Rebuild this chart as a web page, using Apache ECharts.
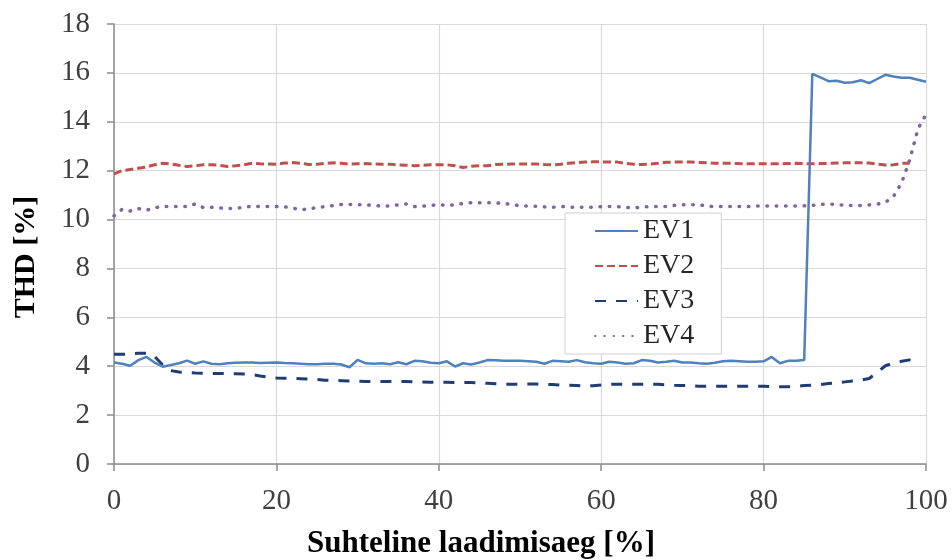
<!DOCTYPE html>
<html>
<head>
<meta charset="utf-8">
<script src="https://cdn.jsdelivr.net/npm/echarts@6/dist/echarts.min.js"></script>
<style>html,body{margin:0;padding:0;background:#fff}#c{width:952px;height:560px}</style>
</head>
<body>
<div id="c"></div>
<script>
// Relative charging time [%] (0..100, step 1)
const pct = Array.from({length: 101}, (_, i) => i);
const xTicks = [0, 20, 40, 60, 80, 100];
const yTicks = [0, 2, 4, 6, 8, 10, 12, 14, 16, 18];

const ev1 = [4.15,4.1,4.02,4.25,4.38,4.15,3.98,4.05,4.12,4.23,
  4.1,4.2,4.1,4.08,4.12,4.14,4.15,4.15,4.13,4.14,
  4.15,4.13,4.12,4.1,4.08,4.08,4.1,4.1,4.07,3.96,
  4.26,4.12,4.1,4.12,4.08,4.16,4.08,4.22,4.2,4.14,
  4.12,4.2,3.99,4.12,4.07,4.15,4.25,4.24,4.22,4.22,
  4.22,4.2,4.18,4.1,4.22,4.2,4.18,4.25,4.16,4.12,
  4.1,4.18,4.15,4.1,4.12,4.25,4.22,4.15,4.18,4.22,
  4.15,4.15,4.12,4.1,4.14,4.2,4.22,4.2,4.18,4.18,
  4.2,4.38,4.12,4.22,4.22,4.25,15.96,15.82,15.66,15.68,
  15.6,15.62,15.7,15.58,15.75,15.92,15.85,15.8,15.8,15.72,15.64];

const ev2 = [11.87,12.0,12.05,12.1,12.15,12.24,12.3,12.28,12.22,12.17,
  12.2,12.24,12.24,12.22,12.17,12.2,12.24,12.3,12.28,12.27,
  12.26,12.31,12.33,12.3,12.25,12.26,12.3,12.32,12.3,12.27,
  12.28,12.29,12.27,12.26,12.26,12.24,12.22,12.2,12.22,12.24,
  12.24,12.24,12.2,12.13,12.18,12.2,12.2,12.25,12.26,12.27,
  12.27,12.27,12.27,12.25,12.24,12.26,12.3,12.33,12.35,12.36,
  12.36,12.35,12.35,12.3,12.26,12.25,12.27,12.3,12.34,12.35,
  12.35,12.35,12.33,12.32,12.3,12.3,12.3,12.29,12.28,12.28,
  12.28,12.28,12.28,12.29,12.3,12.29,12.28,12.29,12.3,12.31,
  12.32,12.32,12.32,12.31,12.27,12.23,12.24,12.3,12.3,null,null];

const ev3 = [4.49,4.49,4.5,4.53,4.53,4.4,4.05,3.82,3.76,3.74,
  3.72,3.71,3.7,3.7,3.7,3.69,3.68,3.66,3.6,3.55,
  3.52,3.51,3.5,3.49,3.48,3.46,3.43,3.42,3.41,3.4,
  3.39,3.38,3.37,3.37,3.37,3.37,3.37,3.36,3.35,3.34,
  3.34,3.34,3.33,3.33,3.33,3.32,3.3,3.28,3.26,3.26,
  3.27,3.27,3.27,3.26,3.25,3.23,3.22,3.21,3.19,3.2,
  3.23,3.26,3.26,3.26,3.26,3.26,3.27,3.26,3.24,3.22,
  3.21,3.2,3.18,3.18,3.18,3.18,3.18,3.18,3.18,3.18,
  3.18,3.17,3.16,3.16,3.18,3.21,3.22,3.25,3.29,3.32,
  3.36,3.4,3.43,3.5,3.75,4.02,4.13,4.2,4.26,4.22,null];

const ev4 = [10.15,10.42,10.35,10.45,10.38,10.48,10.54,10.53,10.53,10.53,
  10.64,10.49,10.5,10.48,10.45,10.46,10.5,10.55,10.53,10.53,
  10.53,10.52,10.47,10.4,10.44,10.49,10.53,10.57,10.62,10.62,
  10.61,10.6,10.58,10.55,10.56,10.6,10.64,10.53,10.55,10.58,
  10.61,10.58,10.6,10.66,10.69,10.69,10.69,10.68,10.66,10.62,
  10.56,10.55,10.54,10.52,10.5,10.54,10.51,10.5,10.5,10.51,
  10.53,10.53,10.53,10.5,10.47,10.52,10.53,10.53,10.53,10.58,
  10.61,10.61,10.61,10.55,10.53,10.53,10.53,10.53,10.53,10.56,
  10.55,10.55,10.55,10.55,10.55,10.56,10.58,10.62,10.63,10.62,
  10.58,10.57,10.58,10.6,10.63,10.7,10.95,11.5,12.45,13.7,14.3];

const seriesNames = ['EV1', 'EV2', 'EV3', 'EV4'];
const xTitle = 'Suhteline laadimisaeg [%]';
const yTitle = 'THD [%]';

const pair = arr => pct.map((x, i) => [x, arr[i]]);
const serif = "'Liberation Serif', 'Times New Roman', serif";

const chart = echarts.init(document.getElementById('c'), null, {renderer: 'canvas'});
chart.setOption({
  animation: false,
  backgroundColor: '#ffffff',
  grid: {left: 114, right: 26, top: 24, bottom: 96, containLabel: false, outerBoundsMode: 'none'},
  xAxis: {
    type: 'value', min: xTicks[0], max: xTicks[xTicks.length - 1], interval: 20,
    name: xTitle, nameLocation: 'middle', nameGap: 64,
    nameTextStyle: {fontFamily: serif, fontWeight: 'bold', fontSize: 31, color: '#000', padding: [0, 78, 0, 0]},
    axisLine: {show: true, lineStyle: {color: '#8C8C8C', width: 1.5}},
    axisTick: {show: true, length: 7, lineStyle: {color: '#8C8C8C', width: 1.5}},
    axisLabel: {margin: 23, fontFamily: serif, fontSize: 29, color: '#404040'},
    splitLine: {show: true, lineStyle: {color: '#D9D9D9', width: 1.2}}
  },
  yAxis: {
    type: 'value', min: yTicks[0], max: yTicks[yTicks.length - 1], interval: 2,
    name: yTitle, nameLocation: 'middle', nameGap: 73, nameRotate: 90,
    nameTextStyle: {fontFamily: serif, fontWeight: 'bold', fontSize: 30, color: '#000', padding: [0, 26, 0, 0]},
    axisLine: {show: true, lineStyle: {color: '#8C8C8C', width: 1.5}},
    axisTick: {show: true, length: 7, lineStyle: {color: '#8C8C8C', width: 1.5}},
    axisLabel: {margin: 24, fontFamily: serif, fontSize: 29, color: '#404040'},
    splitLine: {show: true, lineStyle: {color: '#D9D9D9', width: 1.2}}
  },
  legend: {
    orient: 'vertical', left: 565, top: 213,
    padding: [3, 27, 3, 29], itemGap: 5, itemWidth: 43, itemHeight: 14,
    backgroundColor: '#ffffff', borderColor: '#D0D0D0', borderWidth: 1,
    itemStyle: {opacity: 0},
    textStyle: {fontFamily: serif, fontSize: 28, color: '#262626', lineHeight: 30},
    data: seriesNames
  },
  series: [
    {name: seriesNames[0], type: 'line', data: pair(ev1), showSymbol: false, symbol: 'none',
      lineStyle: {color: '#4F81BD', width: 2.5}, itemStyle: {color: '#4F81BD'}, z: 4},
    {name: seriesNames[1], type: 'line', data: pair(ev2), showSymbol: false, symbol: 'none',
      lineStyle: {color: '#C0504D', width: 3, type: [8, 4]}, itemStyle: {color: '#C0504D'}, z: 3},
    {name: seriesNames[2], type: 'line', data: pair(ev3), showSymbol: false, symbol: 'none',
      lineStyle: {color: '#1F3C75', width: 3, type: [11, 10]}, itemStyle: {color: '#1F3C75'}, z: 3},
    {name: seriesNames[3], type: 'line', data: pair(ev4), showSymbol: false, symbol: 'none',
      lineStyle: {color: '#8064A2', width: 3.5, type: [0.5, 8.8], cap: 'round'}, itemStyle: {color: '#8064A2'}, z: 3}
  ]
});
</script>
</body>
</html>
